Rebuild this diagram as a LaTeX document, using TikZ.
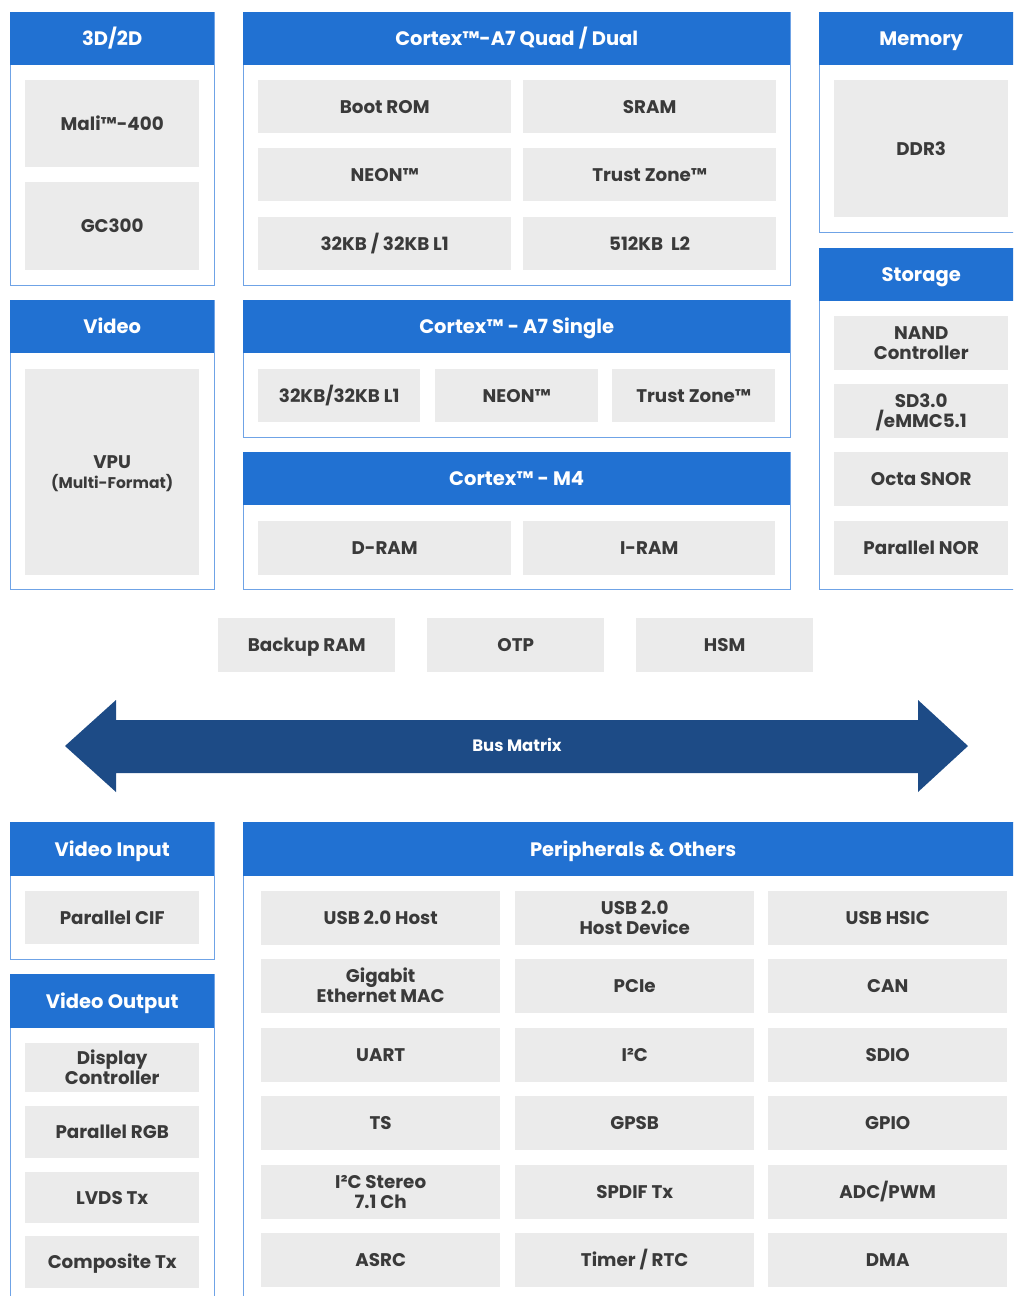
\documentclass[tikz,border=0pt]{standalone}
\usepackage{fontspec}
\setmainfont{Poppins}
\definecolor{headblue}{HTML}{2171D2}
\definecolor{panelline}{HTML}{6FA3E6}
\definecolor{blkgray}{HTML}{EBEBEB}
\definecolor{txtgray}{HTML}{3A3A3A}
\definecolor{busblue}{HTML}{1D4B86}

\begin{document}
\begin{tikzpicture}[x=1pt, y=-1pt,
    panel/.style={draw=panelline, line width=1.2pt, fill=white, anchor=north west, inner sep=0pt},
    head/.style={fill=headblue, anchor=north west, inner sep=0pt, text=white, text height=13.6pt, text depth=0pt,
      font=\bfseries\fontsize{19.5}{22}\selectfont},
    blk/.style={fill=blkgray, anchor=north west, inner sep=0pt, text=txtgray, align=center, text height=12.8pt, text depth=0pt,
      font=\bfseries\fontsize{18.3}{20}\selectfont},
    twoline/.style={text height=32.8pt},
    wh/.style 2 args={minimum width=#1pt, minimum height=#2pt}
]

\useasboundingbox (0,0) rectangle (1013,1296);
\clip (0,0) rectangle (1013,1296);

% 3D/2D
\node[panel, wh={204}{273}] (gfx) at (10,12) {};
\node[head, wh={204}{53}] (gfxhead) at (10,12) {3D/2D};
\node[blk, wh={174}{87}] (mali) at (25,80) {Mali™-400};
\node[blk, wh={174}{88}] (gc) at (25,182) {GC300};

% Cortex-A7 quad / dual
\node[panel, wh={547}{273}] (quad) at (243,12) {};
\node[head, wh={547}{53}] (quadhead) at (243,12) {Cortex™-A7 Quad / Dual};
\node[blk, wh={253}{53}] (bootrom) at (258,80) {Boot ROM};
\node[blk, wh={253}{53}] (sram) at (523,80) {SRAM};
\node[blk, wh={253}{53}] (neonq) at (258,148) {NEON™};
\node[blk, wh={253}{53}] (tzq) at (523,148) {Trust Zone™};
\node[blk, wh={253}{53}] (lonequad) at (258,217) {32KB / 32KB L1};
\node[blk, wh={253}{53}] (ltwoquad) at (523,217) {512KB~~L2};

% Memory
\node[panel, wh={204}{220}] (mem) at (819,12) {};
\node[head, wh={204}{53}] (memhead) at (819,12) {Memory};
\node[blk, wh={174}{137}] (ddr) at (834,80) {DDR3};

% Storage
\node[panel, wh={204}{341}] (stor) at (819,248) {};
\node[head, wh={204}{53}] (storhead) at (819,248) {Storage};
\node[blk, twoline, wh={174}{54}] (nand) at (834,316) {NAND\\Controller};
\node[blk, twoline, wh={174}{54}] (sd) at (834,384) {SD3.0\\/eMMC5.1};
\node[blk, wh={174}{54}] (snor) at (834,452) {Octa SNOR};
\node[blk, wh={174}{54}] (pnor) at (834,521) {Parallel NOR};

% Video
\node[panel, wh={204}{289}] (video) at (10,300) {};
\node[head, wh={204}{53}] (videohead) at (10,300) {Video};
\node[blk, twoline, wh={174}{206}] (vpu) at (25,369) {VPU\\{\fontsize{15.5}{20}\selectfont (Multi-Format)}};

% Cortex-A7 single
\node[panel, wh={547}{137}] (single) at (243,300) {};
\node[head, wh={547}{53}] (singlehead) at (243,300) {Cortex™ - A7 Single};
\node[blk, wh={162}{53}] (lonesingle) at (258,369) {32KB/32KB L1};
\node[blk, wh={163}{53}] (neons) at (435,369) {NEON™};
\node[blk, wh={163}{53}] (tzs) at (612,369) {Trust Zone™};

% Cortex-M4
\node[panel, wh={547}{137}] (mfour) at (243,452) {};
\node[head, wh={547}{53}] (mfourhead) at (243,452) {Cortex™ - M4};
\node[blk, wh={253}{54}] (dram) at (258,521) {D-RAM};
\node[blk, wh={252}{54}] (iram) at (523,521) {I-RAM};

% shared blocks
\node[blk, wh={177}{54}] (backup) at (218,618) {Backup RAM};
\node[blk, wh={177}{54}] (otp) at (427,618) {OTP};
\node[blk, wh={177}{54}] (hsm) at (636,618) {HSM};

% bus
\fill[busblue] (65,746) -- (116,700) -- (116,720) -- (918,720) -- (918,700) -- (968,746)
  -- (918,792) -- (918,773) -- (116,773) -- (116,792) -- cycle;
\node[text=white, text height=11.5pt, text depth=0pt, font=\bfseries\fontsize{16.5}{20}\selectfont] (bus) at (517,746) {Bus Matrix};

% Video input
\node[panel, wh={204}{137}] (vin) at (10,822) {};
\node[head, wh={204}{54}] (vinhead) at (10,822) {Video Input};
\node[blk, wh={174}{53}] (cif) at (25,891) {Parallel CIF};

% Video output
\node[panel, wh={204}{340}] (vout) at (10,974) {};
\node[head, wh={204}{54}] (vouthead) at (10,974) {Video Output};
\node[blk, twoline, wh={174}{49}] (disp) at (25,1043) {Display\\Controller};
\node[blk, wh={174}{52}] (rgb) at (25,1106) {Parallel RGB};
\node[blk, wh={174}{51}] (lvds) at (25,1172) {LVDS Tx};
\node[blk, wh={174}{52}] (comp) at (25,1236) {Composite Tx};

% Peripherals & others
\node[panel, wh={780}{500}] (peri) at (243,822) {};
\node[head, wh={780}{54}] (perihead) at (243,822) {Peripherals \& Others};
\node[blk, wh={239}{54}] (usbhost) at (261,891) {USB 2.0 Host};
\node[blk, twoline, wh={239}{54}] (usbdev) at (515,891) {USB 2.0\\Host Device};
\node[blk, wh={239}{54}] (hsic) at (768,891) {USB HSIC};
\node[blk, twoline, wh={239}{54}] (gmac) at (261,959) {Gigabit\\Ethernet MAC};
\node[blk, wh={239}{54}] (pcie) at (515,959) {PCIe};
\node[blk, wh={239}{54}] (can) at (768,959) {CAN};
\node[blk, wh={239}{54}] (uart) at (261,1028) {UART};
\node[blk, wh={239}{54}] (itwoc) at (515,1028) {I²C};
\node[blk, wh={239}{54}] (sdio) at (768,1028) {SDIO};
\node[blk, wh={239}{54}] (ts) at (261,1096) {TS};
\node[blk, wh={239}{54}] (gpsb) at (515,1096) {GPSB};
\node[blk, wh={239}{54}] (gpio) at (768,1096) {GPIO};
\node[blk, twoline, wh={239}{54}] (itwos) at (261,1165) {I²C Stereo\\7.1 Ch};
\node[blk, wh={239}{54}] (spdif) at (515,1165) {SPDIF Tx};
\node[blk, wh={239}{54}] (adc) at (768,1165) {ADC/PWM};
\node[blk, wh={239}{54}] (asrc) at (261,1233) {ASRC};
\node[blk, wh={239}{54}] (timer) at (515,1233) {Timer / RTC};
\node[blk, wh={239}{54}] (dma) at (768,1233) {DMA};

\end{tikzpicture}
\end{document}
